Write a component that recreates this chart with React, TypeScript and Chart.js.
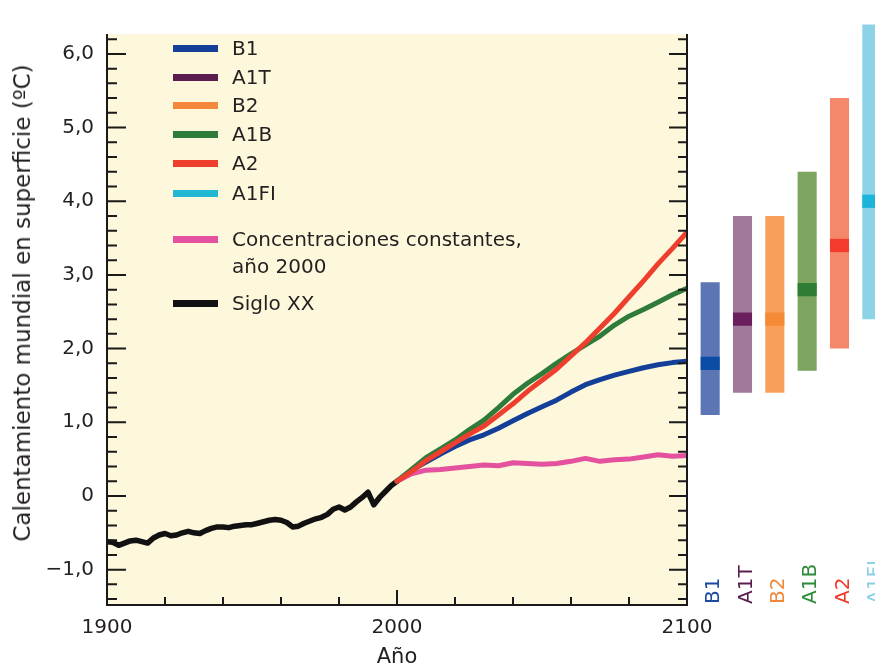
import React, { useEffect, useRef } from "react";
import { Chart, registerables } from "chart.js";

Chart.register(...registerables);

// ---------- DATA ----------
const histYears = [
  1900, 1902, 1904, 1906, 1908, 1910, 1912, 1914, 1916, 1918,
  1920, 1922, 1924, 1926, 1928, 1930, 1932, 1934, 1936, 1938,
  1940, 1942, 1944, 1946, 1948, 1950, 1952, 1954, 1956, 1958,
  1960, 1962, 1964, 1966, 1968, 1970, 1972, 1974, 1976, 1978,
  1980, 1982, 1984, 1986, 1988, 1990, 1992, 1994, 1996, 1998, 2000,
];
const histValues = [
  -0.62, -0.63, -0.67, -0.64, -0.61, -0.6, -0.62, -0.64, -0.57, -0.53,
  -0.51, -0.54, -0.53, -0.5, -0.48, -0.5, -0.51, -0.47, -0.44, -0.42,
  -0.42, -0.43, -0.41, -0.4, -0.39, -0.39, -0.37, -0.35, -0.33, -0.32,
  -0.33, -0.36, -0.42, -0.41, -0.37, -0.34, -0.31, -0.29, -0.25, -0.18,
  -0.15, -0.19, -0.15, -0.08, -0.02, 0.05, -0.12, -0.02, 0.06, 0.14, 0.2,
];

const projYears = [
  2000, 2005, 2010, 2015, 2020, 2025, 2030, 2035, 2040, 2045, 2050,
  2055, 2060, 2065, 2070, 2075, 2080, 2085, 2090, 2095, 2100,
];
const b1Values = [
  0.2, 0.35, 0.46, 0.57, 0.67, 0.76, 0.83, 0.92, 1.02, 1.12, 1.21,
  1.3, 1.41, 1.51, 1.58, 1.64, 1.69, 1.74, 1.78, 1.81, 1.83,
];
const a1bValues = [
  0.2, 0.36, 0.52, 0.64, 0.76, 0.9, 1.03, 1.2, 1.38, 1.53, 1.66,
  1.8, 1.93, 2.05, 2.17, 2.32, 2.44, 2.53, 2.63, 2.73, 2.82,
];
const a2Values = [
  0.2, 0.33, 0.48, 0.6, 0.72, 0.84, 0.95, 1.1, 1.25, 1.42, 1.57,
  1.72, 1.9, 2.08, 2.28, 2.48, 2.7, 2.92, 3.15, 3.36, 3.58,
];
const constValues = [
  0.2, 0.3, 0.35, 0.36, 0.38, 0.4, 0.42, 0.41, 0.45, 0.44, 0.43,
  0.44, 0.47, 0.51, 0.47, 0.49, 0.5, 0.53, 0.56, 0.54, 0.55,
];

const scenarioNames = ["B1", "A1T", "B2", "A1B", "A2", "A1FI"];
const likelyLow = [1.1, 1.4, 1.4, 1.7, 2.0, 2.4];
const likelyHigh = [2.9, 3.8, 3.8, 4.4, 5.4, 6.4];
const bestEstimate = [1.8, 2.4, 2.4, 2.8, 3.4, 4.0];

const yTickValues = [-1, 0, 1, 2, 3, 4, 5, 6];
const xTickValues = [1900, 2000, 2100];

// ---------- STYLE ----------
const FONT = "'DejaVu Sans', 'Liberation Sans', Arial, sans-serif";
const TEXT = "#231f20";
const CREAM = "#fdf7db";
const Y_MIN = -1.48;
const Y_MAX = 6.27;
const AREA_TOP = 34;
const AREA_BOTTOM_PAD = 65;

const lineColors = {
  B1: "#143f98",
  A1T: "#5b1d50",
  B2: "#f4893e",
  A1B: "#2f7b3a",
  A2: "#ee3e2e",
  A1FI: "#22b7d3",
  conc: "#e4519f",
  hist: "#111111",
};
const rangeColors = ["#5b75b5", "#a07a9b", "#f8a05a", "#7da55f", "#f5876a", "#8dd3e8"];
const bestColors = ["#0b4da6", "#6b1f5f", "#f48a35", "#2f7d35", "#f33b2e", "#1cb4da"];
const labelColors = ["#1b4ba0", "#5a1a50", "#f0883a", "#2e8b3a", "#ee3a2a", "#8bd0e6"];

const legendItems = [
  { label: "B1", color: lineColors.B1, y: 48 },
  { label: "A1T", color: lineColors.A1T, y: 77 },
  { label: "B2", color: lineColors.B2, y: 105 },
  { label: "A1B", color: lineColors.A1B, y: 134 },
  { label: "A2", color: lineColors.A2, y: 163 },
  { label: "A1FI", color: lineColors.A1FI, y: 193 },
  { label: "Concentraciones constantes,", color: lineColors.conc, y: 239 },
  { label: "año 2000", color: null, y: 266 },
  { label: "Siglo XX", color: lineColors.hist, y: 303 },
];

const toPoints = (xs: number[], ys: number[]) => xs.map((x, i) => ({ x, y: ys[i] }));

const frameAndTicks = {
  id: "frameAndTicks",
  beforeDraw(chart: any) {
    const { ctx, chartArea: a } = chart;
    ctx.save();
    ctx.fillStyle = CREAM;
    ctx.fillRect(a.left, a.top, a.right - a.left, a.bottom - a.top);
    ctx.restore();
  },
  afterDatasetsDraw(chart: any) {
    const { ctx, chartArea: a, scales } = chart;
    const xs = scales.x;
    const ys = scales.y;
    ctx.save();
    ctx.strokeStyle = "#1a1a1a";
    ctx.lineWidth = 2;
    ctx.lineCap = "butt";
    ctx.beginPath();
    ctx.moveTo(a.left, a.top);
    ctx.lineTo(a.left, a.bottom);
    ctx.lineTo(a.right, a.bottom);
    ctx.lineTo(a.right, a.top);
    for (let k = -7; k <= 31; k++) {
      const v = k / 5;
      if (v < ys.min || v > ys.max) continue;
      const py = ys.getPixelForValue(v);
      const major = k % 5 === 0;
      const lenL = major ? 19 : 10;
      const lenR = major ? 18 : 9;
      ctx.moveTo(a.left, py);
      ctx.lineTo(a.left + lenL, py);
      ctx.moveTo(a.right, py);
      ctx.lineTo(a.right - lenR, py);
    }
    for (let yr = 1920; yr < 2100; yr += 20) {
      const px = xs.getPixelForValue(yr);
      const len = yr % 100 === 0 ? 15 : 8;
      ctx.moveTo(px, a.bottom);
      ctx.lineTo(px, a.bottom - len);
    }
    ctx.stroke();
    ctx.restore();
  },
};

export default function App() {
  const mainRef = useRef<HTMLCanvasElement>(null);
  const barRef = useRef<HTMLCanvasElement>(null);

  useEffect(() => {
    document.body.style.margin = "0";
    const lineDefaults = {
      pointRadius: 0,
      borderWidth: 5,
      fill: false,
      tension: 0,
      borderJoinStyle: "round" as const,
      borderCapStyle: "round" as const,
    };
    const main = new Chart(mainRef.current as HTMLCanvasElement, {
      type: "line",
      data: {
        datasets: [
          { ...lineDefaults, label: "A2", data: toPoints(projYears, a2Values), borderColor: lineColors.A2, order: 0 },
          { ...lineDefaults, label: "A1B", data: toPoints(projYears, a1bValues), borderColor: lineColors.A1B, order: 1 },
          { ...lineDefaults, label: "B1", data: toPoints(projYears, b1Values), borderColor: lineColors.B1, order: 2 },
          { ...lineDefaults, label: "Concentraciones constantes, año 2000", data: toPoints(projYears, constValues), borderColor: lineColors.conc, order: 3 },
          { ...lineDefaults, label: "Siglo XX", data: toPoints(histYears, histValues), borderColor: lineColors.hist, borderWidth: 5.5, order: 4 },
        ],
      },
      options: {
        animation: false,
        responsive: false,
        maintainAspectRatio: false,
        layout: { padding: { top: AREA_TOP, right: 188, bottom: 0, left: 0 } },
        plugins: { legend: { display: false }, tooltip: { enabled: false } },
        scales: {
          x: {
            type: "linear",
            min: 1900,
            max: 2100,
            afterBuildTicks: (s: any) => {
              s.ticks = xTickValues.map((value) => ({ value }));
            },
            afterFit: (s: any) => {
              s.height = AREA_BOTTOM_PAD;
            },
            grid: { display: false, drawTicks: false },
            border: { display: false },
            ticks: {
              padding: 11,
              autoSkip: false,
              maxRotation: 0,
              color: TEXT,
              font: { family: FONT, size: 20 },
              callback: (v: any) => String(v),
            },
            title: {
              display: true,
              text: "Año",
              color: TEXT,
              font: { family: FONT, size: 21 },
              padding: { top: 0, bottom: 0 },
            },
          },
          y: {
            type: "linear",
            min: Y_MIN,
            max: Y_MAX,
            afterBuildTicks: (s: any) => {
              s.ticks = yTickValues.map((value) => ({ value }));
            },
            afterFit: (s: any) => {
              s.width = 107;
            },
            grid: { display: false, drawTicks: false },
            border: { display: false },
            ticks: {
              padding: 13,
              color: TEXT,
              font: { family: FONT, size: 20 },
              callback: (v: any) =>
                v === 0 ? "0" : (v < 0 ? "\u2212" : "") + Math.abs(v).toFixed(1).replace(".", ","),
            },
          },
        },
      },
      plugins: [frameAndTicks],
    });

    const bars = new Chart(barRef.current as HTMLCanvasElement, {
      type: "bar",
      data: {
        labels: scenarioNames,
        datasets: [
          {
            label: "Mejor estimación",
            data: bestEstimate.map((b) => [b - 0.09, b + 0.09]),
            backgroundColor: bestColors,
            grouped: false,
            clip: false as any,
            borderWidth: 0,
            barPercentage: 0.59,
            categoryPercentage: 1,
          },
          {
            label: "Rango probable",
            data: likelyLow.map((lo, i) => [lo, likelyHigh[i]]),
            backgroundColor: rangeColors,
            grouped: false,
            clip: false as any,
            borderWidth: 0,
            barPercentage: 0.59,
            categoryPercentage: 1,
          },
        ],
      },
      options: {
        animation: false,
        responsive: false,
        maintainAspectRatio: false,
        layout: { padding: { top: AREA_TOP, bottom: AREA_BOTTOM_PAD, left: 0, right: 0 } },
        plugins: { legend: { display: false }, tooltip: { enabled: false } },
        scales: {
          x: { display: false },
          y: { display: false, min: Y_MIN, max: Y_MAX },
        },
      },
    });

    return () => {
      main.destroy();
      bars.destroy();
    };
  }, []);

  const barCenters = scenarioNames.map((_, i) => 694 + (194 / 6) * (i + 0.5));

  return (
    <div
      style={{
        position: "absolute",
        left: 0,
        top: 0,
        width: 875,
        height: 670,
        overflow: "hidden",
        background: "#ffffff",
        fontFamily: FONT,
      }}
    >
      <canvas ref={mainRef} width={875} height={670} style={{ position: "absolute", left: 0, top: 0 }} />
      <canvas ref={barRef} width={194} height={670} style={{ position: "absolute", left: 694, top: 0 }} />

      <div
        style={{
          position: "absolute",
          left: 22,
          top: 303,
          transform: "translate(-50%, -50%) rotate(-90deg)",
          whiteSpace: "nowrap",
          fontSize: 23,
          lineHeight: "26px",
          color: TEXT,
        }}
      >
        Calentamiento mundial en superficie (ºC)
      </div>

      {legendItems.map((it) => (
        <React.Fragment key={it.label}>
          {it.color && (
            <div
              style={{
                position: "absolute",
                left: 173,
                top: it.y - 3.5,
                width: 45,
                height: 7,
                background: it.color,
              }}
            />
          )}
          <div
            style={{
              position: "absolute",
              left: 232,
              top: it.y - 12,
              height: 24,
              lineHeight: "24px",
              fontSize: 20,
              whiteSpace: "nowrap",
              color: TEXT,
            }}
          >
            {it.label}
          </div>
        </React.Fragment>
      ))}

      {scenarioNames.map((name, i) => (
        <div
          key={name}
          style={{
            position: "absolute",
            left: barCenters[i] + 2,
            top: 604,
            transformOrigin: "0 0",
            transform: "rotate(-90deg) translateY(-50%)",
            whiteSpace: "nowrap",
            fontSize: 20,
            lineHeight: "22px",
            color: labelColors[i],
          }}
        >
          {name}
        </div>
      ))}
    </div>
  );
}
